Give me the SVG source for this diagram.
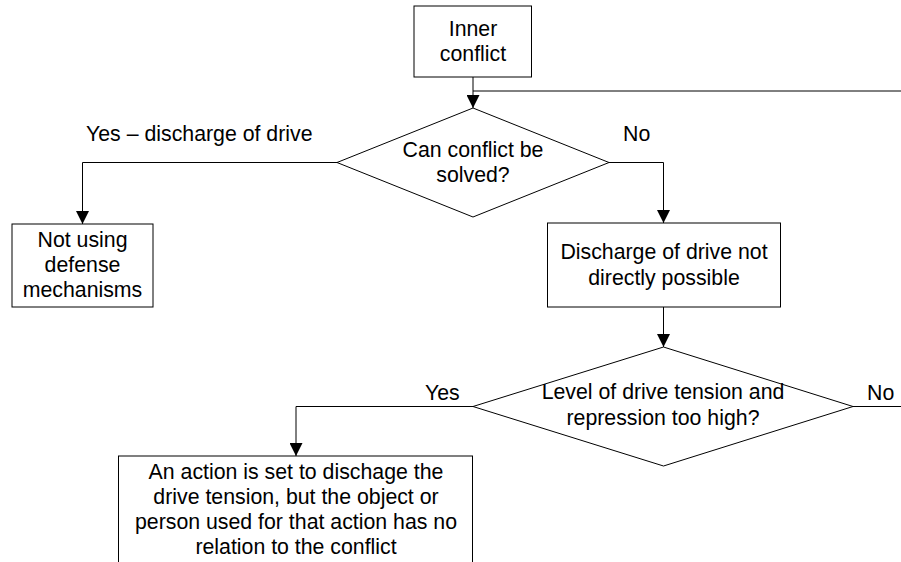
<svg xmlns="http://www.w3.org/2000/svg" width="901" height="562" viewBox="0 0 901 562">
<style>
  .box{fill:#fff;stroke:#000;stroke-width:1}
  .t{font-family:"Liberation Sans",Arial,sans-serif;font-size:21.3px;fill:#000}
  .c{text-anchor:middle}
  .ln{fill:none;stroke:#000;stroke-width:1}
</style>
<defs>
  <marker id="arr" markerUnits="userSpaceOnUse" markerWidth="13" markerHeight="13" refX="12" refY="6" orient="auto" viewBox="0 0 12 12">
    <path d="M0,0 L12,6 L0,12 z" fill="#000"/>
  </marker>
</defs>
<rect width="901" height="562" fill="#fff"/>
<g id="connectors">
  <path class="ln" d="M473,77 V108" marker-end="url(#arr)"/>
  <path class="ln" d="M473,91 H901"/>
  <path class="ln" d="M337,162.5 H82.5 V224" marker-end="url(#arr)"/>
  <path class="ln" d="M609,162.5 H663.5 V223" marker-end="url(#arr)"/>
  <path class="ln" d="M663.5,307 V347" marker-end="url(#arr)"/>
  <path class="ln" d="M473,406.5 H296 V456" marker-end="url(#arr)"/>
  <path class="ln" d="M853,406.5 H901"/>
</g>
<g id="inner-conflict">
  <rect class="box" x="414" y="6" width="117.5" height="71"/>
  <text class="t c" x="473" y="36">Inner</text>
  <text class="t c" x="473" y="61">conflict</text>
</g>
<g id="decision-solved">
  <polygon class="box" points="473,108 609,162.5 473,217 337,162.5"/>
  <text class="t c" x="473" y="157">Can conflict be</text>
  <text class="t c" x="473" y="182">solved?</text>
</g>
<g id="label-yes-discharge">
  <text class="t" x="86" y="141">Yes – discharge of drive</text>
</g>
<g id="label-no-1">
  <text class="t" x="623" y="141">No</text>
</g>
<g id="not-using">
  <rect class="box" x="12" y="224" width="141" height="83"/>
  <text class="t c" x="82.5" y="247">Not using</text>
  <text class="t c" x="82.5" y="272">defense</text>
  <text class="t c" x="82.5" y="297">mechanisms</text>
</g>
<g id="discharge-not-possible">
  <rect class="box" x="547.5" y="223" width="233" height="84"/>
  <text class="t c" x="664" y="259">Discharge of drive not</text>
  <text class="t c" x="664" y="285">directly possible</text>
</g>
<g id="decision-tension">
  <polygon class="box" points="663.5,347 853,406.5 663.5,466 473,406.5"/>
  <text class="t c" x="663" y="399">Level of drive tension and</text>
  <text class="t c" x="663" y="425">repression too high?</text>
</g>
<g id="label-yes-2">
  <text class="t" x="425" y="400">Yes</text>
</g>
<g id="label-no-2">
  <text class="t" x="867" y="400">No</text>
</g>
<g id="action-box">
  <rect class="box" x="118.5" y="456" width="354" height="120"/>
  <text class="t c" x="296" y="479">An action is set to dischage the</text>
  <text class="t c" x="296" y="504">drive tension, but the object or</text>
  <text class="t c" x="296" y="529">person used for that action has no</text>
  <text class="t c" x="296" y="554">relation to the conflict</text>
</g>
</svg>
